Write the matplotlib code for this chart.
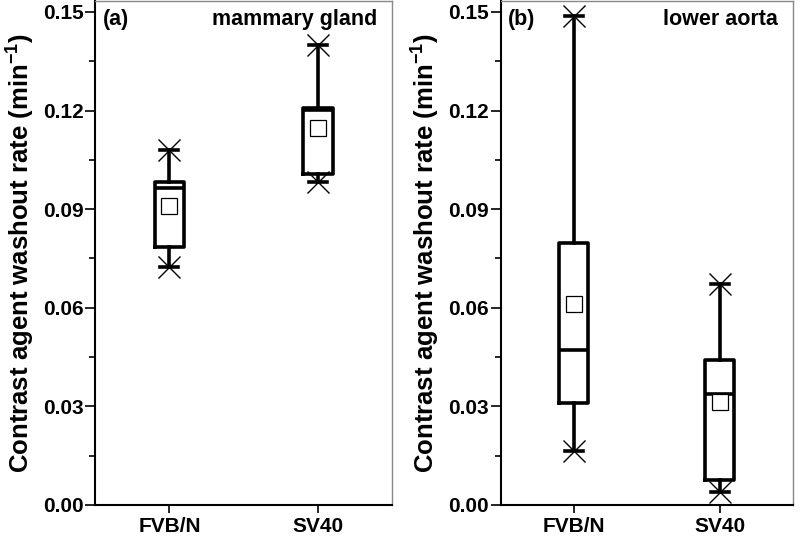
import matplotlib
matplotlib.use("Agg")
import matplotlib.pyplot as plt
from matplotlib.ticker import MultipleLocator, FormatStrFormatter

plt.rcParams['font.family'] = ['Liberation Sans', 'DejaVu Sans']
plt.rcParams['font.weight'] = 'bold'
plt.rcParams['mathtext.fontset'] = 'custom'
plt.rcParams['mathtext.bf'] = 'Liberation Sans:bold'
plt.rcParams['mathtext.rm'] = 'Liberation Sans:bold'

groups = ['FVB/N', 'SV40']
panel_labels = ['(a)', '(b)']
tissues = ['mammary gland', 'lower aorta']

# per panel: values for FVB/N, SV40
whis_low = [[0.0725, 0.0984], [0.0163, 0.0038]]
q1 = [[0.0786, 0.1007], [0.0310, 0.0077]]
median = [[0.0963, 0.1203], [0.0472, 0.0338]]
q3 = [[0.0982, 0.1209], [0.0797, 0.0442]]
whis_high = [[0.1080, 0.1400], [0.1488, 0.0672]]
means = [[0.0908, 0.1148], [0.0611, 0.0312]]

fig = plt.figure(figsize=(8, 5.4), dpi=100)
axes = [fig.add_axes([0.119, 0.065, 0.371, 0.933]),
        fig.add_axes([0.626, 0.065, 0.365, 0.933])]

for i, ax in enumerate(axes):
    stats = []
    for j, g in enumerate(groups):
        stats.append(dict(label=g, whislo=whis_low[i][j], q1=q1[i][j], med=median[i][j],
                          q3=q3[i][j], whishi=whis_high[i][j], mean=means[i][j], fliers=[]))
    pos = [1, 2]
    ax.bxp(stats, positions=pos, widths=0.2, showmeans=True, showfliers=False,
           capwidths=0.12,
           boxprops=dict(color='black', linewidth=2.6),
           medianprops=dict(color='black', linewidth=2.6),
           whiskerprops=dict(color='black', linewidth=2.6),
           capprops=dict(color='black', linewidth=2.6),
           meanprops=dict(marker='s', markersize=11, markerfacecolor='white',
                          markeredgecolor='black', markeredgewidth=0.9))
    ends = [whis_low[i][j] for j in range(2)] + [whis_high[i][j] for j in range(2)]
    ax.plot(pos + pos, ends, linestyle='none', marker='x', markersize=16,
            color='black', markeredgewidth=1.0)

    ax.set_xlim(0.5, 2.5)
    ax.set_ylim(0, 0.1533)
    ax.yaxis.set_major_locator(MultipleLocator(0.03))
    ax.yaxis.set_minor_locator(MultipleLocator(0.015))
    ax.yaxis.set_major_formatter(FormatStrFormatter('%.2f'))
    ax.set_xticks(pos)
    ax.set_xticklabels(groups, fontsize=15, fontweight='bold')
    ax.tick_params(axis='y', which='major', length=7, width=1.2, labelsize=15, pad=1.5)
    ax.tick_params(axis='y', which='minor', length=4, width=1.2)
    ax.tick_params(axis='x', length=6, width=1.2, pad=3)
    for lab in ax.get_yticklabels():
        lab.set_fontweight('bold')
    ax.spines['left'].set_linewidth(1.5)
    ax.spines['bottom'].set_linewidth(1.5)
    for s in ['top', 'right']:
        ax.spines[s].set_color('#888888')
        ax.spines[s].set_linewidth(1.0)
    ax.set_ylabel(r'Contrast agent washout rate (min$^{\mathbf{-1}}$)', fontsize=18.5,
                  fontweight='bold', labelpad=5)
    ax.text(0.025, 0.985, panel_labels[i], transform=ax.transAxes, ha='left', va='top',
            fontsize=15.5, fontweight='bold')
    ax.text(0.95, 0.985, tissues[i], transform=ax.transAxes, ha='right', va='top',
            fontsize=15.5, fontweight='bold')

fig.savefig('out.png', dpi=100)
